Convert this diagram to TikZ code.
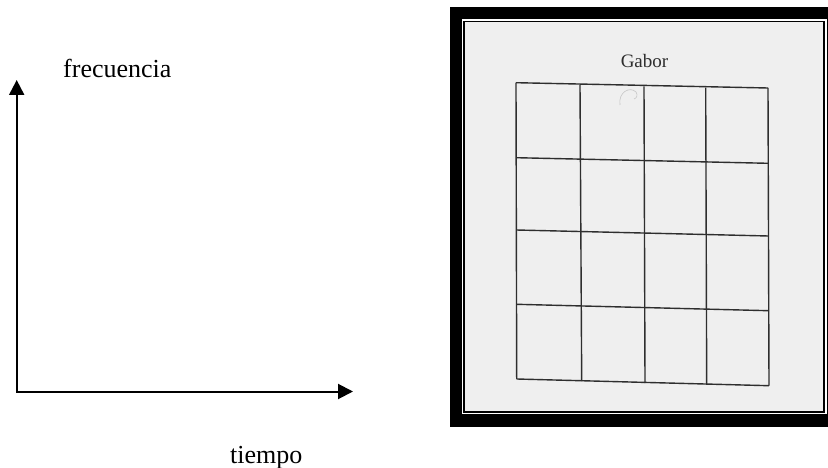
\documentclass[tikz,border=0pt]{standalone}
\usepackage{fontspec}
\setmainfont{Liberation Serif}
\usetikzlibrary{arrows.meta}
\definecolor{paper}{HTML}{EFEFEF}
\definecolor{ink}{HTML}{2E2E2E}
\tikzset{
  axis/.style={line width=2pt, {Triangle[length=15pt,width=15pt]}-{Triangle[length=15pt,width=15pt]}},
  gridline/.style={draw=ink, line width=1.4pt},
  axlabel/.style={font=\fontsize{26}{30}\selectfont, inner sep=0pt, anchor=base west},
}
\begin{document}
\begin{tikzpicture}[x=1pt,y=-1pt]
\useasboundingbox (0,0) rectangle (828,468);
\fill[white] (0,0) rectangle (828,468);
% axes
\coordinate (ytip) at (16.7,80);
\coordinate (xtip) at (353,391.5);
\draw[axis] (ytip) |- (xtip);
\node[axlabel] (frec) at (63,78) {frecuencia};
\node[axlabel] (tiem) at (230,463) {tiempo};
% framed scan
\fill[black] (450,7) rectangle (828,427);
\fill[white] (462,19) rectangle (826.5,414);
\fill[black] (463.3,20.7) rectangle (824.8,412.6);
\fill[paper] (465.3,22.3) rectangle (822.8,410.8);
\node[font=\fontsize{19}{22}\selectfont, text=ink, inner sep=0pt, anchor=base] (gabor) at (644.5,67.3) {Gabor};
% faint squiggle
\draw[gray!45, line width=0.6pt] (620,105) .. controls (618,92) and (630,86) .. (636,92) .. controls (638,95) and (637,98) .. (634,99);
% grid coordinates (slightly skewed scan)
\coordinate (t0) at (516,82.7);   \coordinate (b0) at (516.7,379);
\coordinate (t1) at (580,84.5);   \coordinate (b1) at (581.7,381.2);
\coordinate (t2) at (644,86.3);   \coordinate (b2) at (645,383);
\coordinate (t3) at (705.7,87.6); \coordinate (b3) at (706.7,384.8);
\coordinate (t4) at (768,88);     \coordinate (b4) at (769,385.7);
\coordinate (l1) at (516.2,157.7); \coordinate (r1) at (768.3,163.3);
\coordinate (l2) at (516.4,230);   \coordinate (r2) at (768.5,236);
\coordinate (l3) at (516.5,304.3); \coordinate (r3) at (768.7,310.7);
\foreach \i in {0,...,4} { \draw[gridline] (t\i) -- (b\i); }
\draw[gridline] (t0) -- (t4);
\draw[gridline] (b0) -- (b4);
\foreach \i in {1,2,3} { \draw[gridline] (l\i) -- (r\i); }
\end{tikzpicture}
\end{document}
